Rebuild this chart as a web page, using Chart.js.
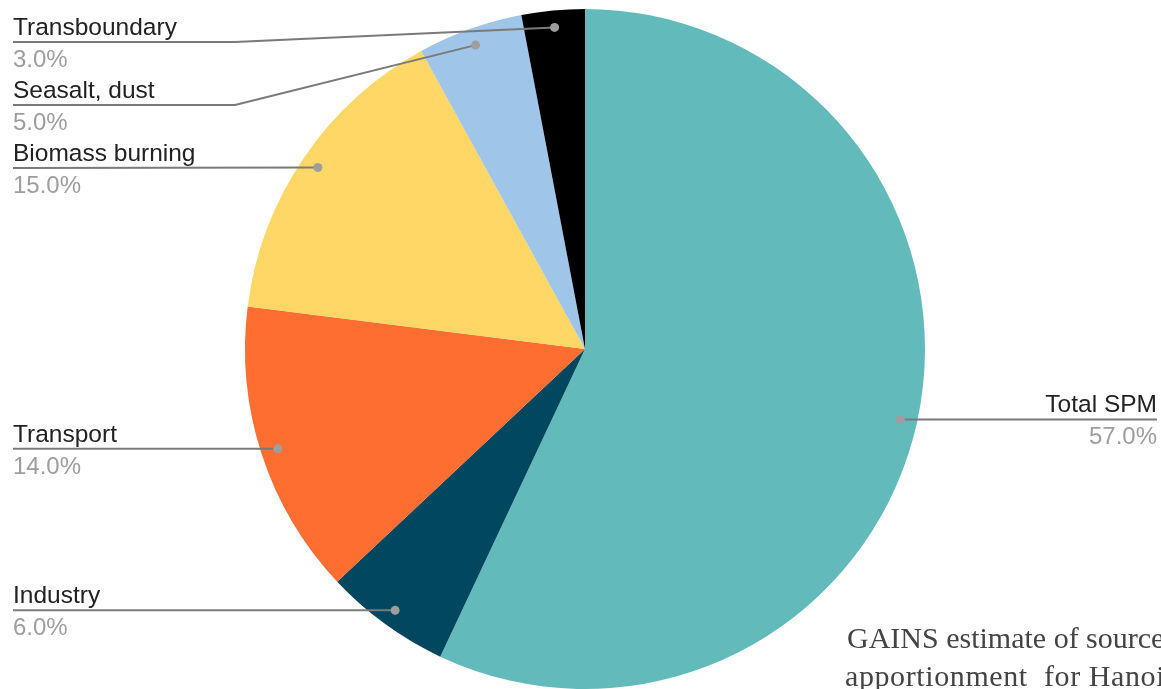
<!DOCTYPE html>
<html>
<head>
<meta charset="utf-8">
<script src="https://cdn.jsdelivr.net/npm/chart.js@4/dist/chart.umd.min.js"></script>
<style>
  html, body { margin: 0; padding: 0; background: #fff; overflow: hidden; }
  #wrap { position: relative; width: 1161px; height: 689px; }
  #caption {
    position: absolute; left: 847px; top: 619px;
    font: 30px "Liberation Serif", serif; line-height: 38px;
    color: #444; white-space: pre;
  }
  #caption .l2 { letter-spacing: 0.6px; margin-left: -2px; }
</style>
</head>
<body>
<div id="wrap">
  <canvas id="grafico_fontes"></canvas>
  <div id="caption"><div>GAINS estimate of source</div><div class="l2">apportionment  for Hanoi</div></div>
</div>
<script>
// fontes de PM - Hanoi
const fontes = ['Total SPM', 'Industry', 'Transport', 'Biomass burning', 'Seasalt, dust', 'Transboundary'];
const percentuais = [57, 6, 14, 15, 5, 3];
const cores = ['#62BBBA', '#01475F', '#FF6E31', '#FED766', '#9FC5E8', '#000000'];

// rótulos com linha guia (estilo google charts)
const rotulosPlugin = {
  id: 'rotulos',
  afterDraw(chart) {
    const ctx = chart.ctx;
    const meta = chart.getDatasetMeta(0);
    const total = percentuais.reduce((a, b) => a + b, 0);
    const esquerda = [], direita = [];

    meta.data.forEach((arc, i) => {
      const meio = (arc.startAngle + arc.endAngle) / 2;
      const r = arc.outerRadius * 0.95;
      const ponto = {
        i: i,
        x: arc.x + Math.cos(meio) * r,
        y: arc.y + Math.sin(meio) * r,
        cx: arc.x, raio: arc.outerRadius
      };
      (ponto.x < arc.x ? esquerda : direita).push(ponto);
    });

    const espaco = 63, topo = 42;
    function posiciona(lista) {
      lista.sort((a, b) => a.y - b.y);
      let ant = -Infinity;
      lista.forEach(p => {
        p.ly = Math.max(p.y, ant + espaco, topo);
        ant = p.ly;
      });
    }
    posiciona(esquerda);
    posiciona(direita);

    function desenha(p, lado) {
      const xTexto = lado === 'esq' ? 13 : chart.width - 4;
      const dobra = lado === 'esq' ? p.cx - p.raio - 10 : p.cx + p.raio + 10;
      ctx.save();
      ctx.strokeStyle = '#7a7a7a';
      ctx.lineWidth = 2;
      ctx.beginPath();
      ctx.moveTo(xTexto, p.ly);
      if (Math.abs(p.ly - p.y) > 1) {
        ctx.lineTo(dobra, p.ly);
      }
      ctx.lineTo(p.x, p.y);
      ctx.stroke();

      ctx.fillStyle = '#9e9e9e';
      ctx.beginPath();
      ctx.arc(p.x, p.y, 4.5, 0, Math.PI * 2);
      ctx.fill();

      ctx.textAlign = lado === 'esq' ? 'left' : 'right';
      ctx.textBaseline = 'alphabetic';
      ctx.font = '24.5px "Liberation Sans", Arial, sans-serif';
      ctx.fillStyle = '#222';
      ctx.fillText(fontes[p.i], xTexto, p.ly - 7);
      ctx.font = '24px "Liberation Sans", Arial, sans-serif';
      ctx.fillStyle = '#9e9e9e';
      const pct = (percentuais[p.i] / total * 100).toFixed(1) + '%';
      ctx.fillText(pct, xTexto, p.ly + 25);
      ctx.restore();
    }
    esquerda.forEach(p => desenha(p, 'esq'));
    direita.forEach(p => desenha(p, 'dir'));
  }
};

const config_fontes = {
  type: 'pie',
  data: {
    labels: fontes,
    datasets: [{
      data: percentuais,
      backgroundColor: cores,
      borderWidth: 0
    }]
  },
  options: {
    responsive: true,
    maintainAspectRatio: false,
    animation: false,
    layout: { padding: { top: 9, left: 9, right: 0, bottom: 0 } },
    plugins: {
      legend: { display: false },
      tooltip: { enabled: false }
    }
  },
  plugins: [rotulosPlugin]
};

const grafico_fontes = new Chart(document.getElementById('grafico_fontes'), config_fontes);
</script>
</body>
</html>
